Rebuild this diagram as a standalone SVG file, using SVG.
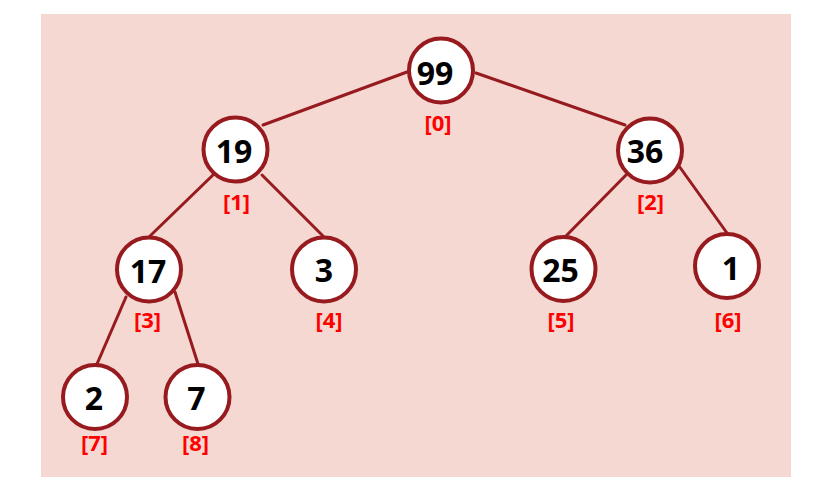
<svg xmlns="http://www.w3.org/2000/svg" width="828" height="493" viewBox="0 0 828 493">
<style>
.node circle{fill:#ffffff;stroke:#971a1f;stroke-width:4}
.node text.v{font-family:"Open Sans","Liberation Sans",sans-serif;font-weight:700;font-size:32px;fill:#000000;text-anchor:middle}
.node text.i{font-family:"Open Sans","Liberation Sans",sans-serif;font-weight:700;font-size:22px;fill:#ff0000;text-anchor:middle}
#edges line{stroke:#971a1f;stroke-width:3;stroke-linecap:round}
</style>
<rect x="41" y="14" width="750" height="463" fill="#f5d8d1"/>
<g id="edges">
<line x1="263" y1="125" x2="407" y2="72"/>
<line x1="476" y1="73" x2="625" y2="125"/>
<line x1="213" y1="175" x2="150" y2="236"/>
<line x1="262" y1="175" x2="323" y2="236"/>
<line x1="626" y1="175" x2="565" y2="237"/>
<line x1="679" y1="166" x2="727" y2="233"/>
<line x1="126" y1="297" x2="97" y2="364"/>
<line x1="175" y1="292" x2="198" y2="364"/>
</g>
<g id="n0" class="node"><circle cx="441" cy="70.5" r="32"/><text class="v" x="435" y="85">99</text><text class="i" x="438" y="131">[0]</text></g>
<g id="n1" class="node"><circle cx="235.5" cy="149.5" r="32"/><text class="v" x="234" y="163">19</text><text class="i" x="236.5" y="210">[1]</text></g>
<g id="n2" class="node"><circle cx="650" cy="150.5" r="32"/><text class="v" x="645" y="163">36</text><text class="i" x="650.5" y="210">[2]</text></g>
<g id="n3" class="node"><circle cx="149" cy="269.5" r="32"/><text class="v" x="148" y="283">17</text><text class="i" x="147.5" y="328">[3]</text></g>
<g id="n4" class="node"><circle cx="324" cy="269.5" r="32"/><text class="v" x="324" y="282">3</text><text class="i" x="329" y="328">[4]</text></g>
<g id="n5" class="node"><circle cx="563.5" cy="269" r="32"/><text class="v" x="560.5" y="282">25</text><text class="i" x="561" y="328">[5]</text></g>
<g id="n6" class="node"><circle cx="727" cy="266" r="32"/><text class="v" x="731" y="280">1</text><text class="i" x="728" y="328">[6]</text></g>
<g id="n7" class="node"><circle cx="95" cy="397" r="32"/><text class="v" x="94" y="410">2</text><text class="i" x="94.5" y="451">[7]</text></g>
<g id="n8" class="node"><circle cx="197.5" cy="397" r="32"/><text class="v" x="196.5" y="410">7</text><text class="i" x="195.5" y="451">[8]</text></g>
</svg>
